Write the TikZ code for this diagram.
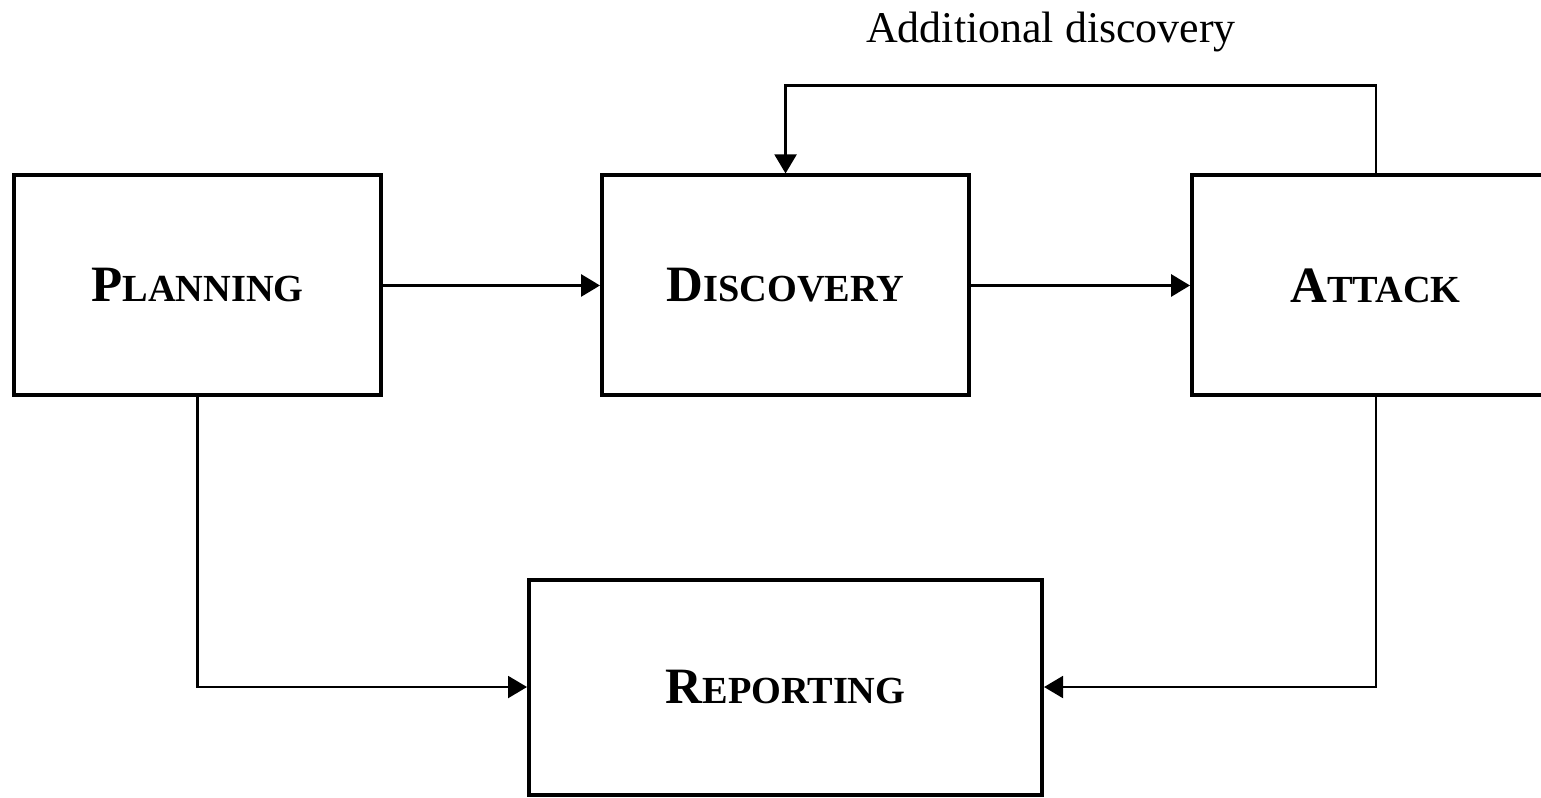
\documentclass[tikz,border=0pt]{standalone}
\usepackage{fontspec}
\setmainfont{Liberation Serif}
\usetikzlibrary{positioning,arrows.meta}

% fake small caps: big first letter, smaller capitals after it
\newcommand{\boxlabel}[2]{\textbf{{\fontsize{14.5pt}{17pt}\selectfont #1}{\fontsize{10.9pt}{13pt}\selectfont #2}}}

\begin{document}
\begin{tikzpicture}[>={Triangle[length=1.9mm,width=2.2mm]},
    phase/.style={draw, line width=1.15pt, minimum width=3.67cm, minimum height=2.2cm, inner sep=0pt},
    flow/.style={->, line width=0.85pt},
    back/.style={->, line width=0.6pt}]
        \useasboundingbox (0,0) rectangle (15.41,7.98);

        % phase boxes
        \node[phase] (plan) at (1.975,5.125) {\boxlabel{P}{LANNING}};
        \node[phase, right=2.17cm of plan] (disc) {\boxlabel{D}{ISCOVERY}};
        \node[phase, right=2.19cm of disc] (att) {\boxlabel{A}{TTACK}};
        \node[phase, minimum width=5.13cm, minimum height=2.15cm, below=1.8cm of disc] (rep) {\boxlabel{R}{EPORTING}};

        % main flow
        \draw[flow] (plan) -- (disc);
        \draw[flow] (disc) -- (att);

        % loop back and reporting
        \draw[back] (att.north) -- ++(0,0.88) -| (disc.north);
        \node[font=\fontsize{12.5pt}{15pt}\selectfont] (lbl) at (10.51,7.66) {Additional discovery};
        \draw[back] (plan.south) |- (rep.west);
        \draw[back] (att.south) |- (rep.east);
    \end{tikzpicture}
\end{document}
